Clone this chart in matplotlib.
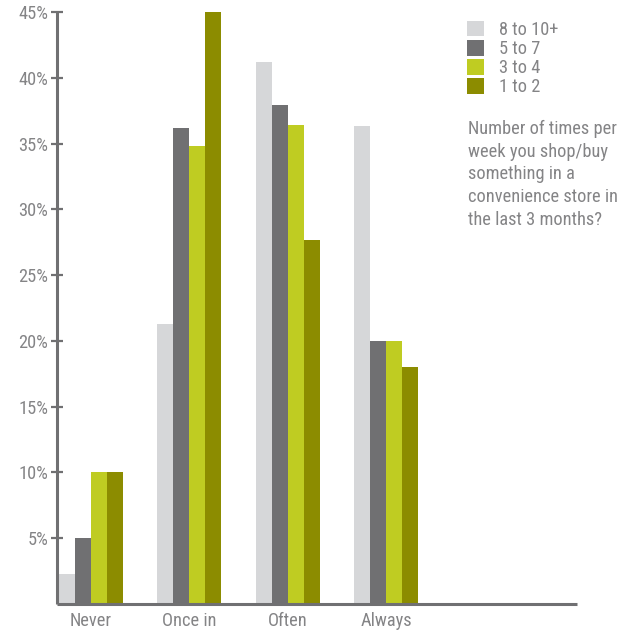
import matplotlib
matplotlib.use("Agg")
import matplotlib.pyplot as plt
import numpy as np

plt.rcParams["font.family"] = ["Roboto Condensed", "DejaVu Sans"]

categories = ["Never", "Once in", "Often", "Always"]
series_names = ["8 to 10+", "5 to 7", "3 to 4", "1 to 2"]
share_8_to_10 = [2.3, 21.3, 41.2, 36.3]
share_5_to_7 = [5.0, 36.2, 37.9, 20.0]
share_3_to_4 = [10.0, 34.8, 36.4, 20.0]
share_1_to_2 = [10.0, 45.0, 27.7, 18.0]
y_ticks = [5, 10, 15, 20, 25, 30, 35, 40, 45]
question = ("Number of times per\nweek you shop/buy\nsomething in a\n"
            "convenience store in\nthe last 3 months?")

colors = ["#d6d7d9", "#707072", "#bfcc22", "#8c8c00"]
text_grey = "#848486"
axis_grey = "#707072"
fsize = 13.2

fig = plt.figure(figsize=(6.18, 6.31), dpi=100)
ax = fig.add_axes([57 / 618, 27 / 631, 520 / 618, 592 / 631])

x = np.arange(len(categories))
width = 0.162
all_series = [share_8_to_10, share_5_to_7, share_3_to_4, share_1_to_2]
handles = []
for i, (name, vals, c) in enumerate(zip(series_names, all_series, colors)):
    h = ax.bar(x + (i - 1.5) * width, vals, width, color=c, label=name,
               linewidth=0)
    handles.append(h)

ax.set_xlim(-0.345, 4.94)
ax.set_ylim(0, 45)
ax.set_yticks(y_ticks)
ax.set_yticklabels([f"{t}%" for t in y_ticks])
ax.set_xticks(x)
ax.set_xticklabels(categories)

for side in ["top", "right"]:
    ax.spines[side].set_visible(False)
for side in ["left", "bottom"]:
    ax.spines[side].set_color(axis_grey)
    ax.spines[side].set_linewidth(2.2)
    ax.spines[side].set_capstyle("butt")

ax.tick_params(axis="y", direction="inout", length=8.5, width=1.6,
               color=axis_grey, labelcolor=text_grey, labelsize=fsize, pad=2)
ax.tick_params(axis="x", length=0, labelcolor=text_grey, labelsize=fsize,
               pad=6)

leg = fig.legend(handles=handles, loc="upper left",
                 bbox_to_anchor=(467 / 618, 1 - 21 / 631), frameon=False,
                 fontsize=fsize, labelcolor=text_grey, handlelength=0.92,
                 handleheight=0.92, handletextpad=0.85, labelspacing=0.06,
                 borderaxespad=0, borderpad=0)

fig.text(468 / 618, 1 - 120 / 631, question, ha="left", va="top",
         fontsize=fsize, color=text_grey, linespacing=1.33)

fig.savefig("out.png", dpi=100)
